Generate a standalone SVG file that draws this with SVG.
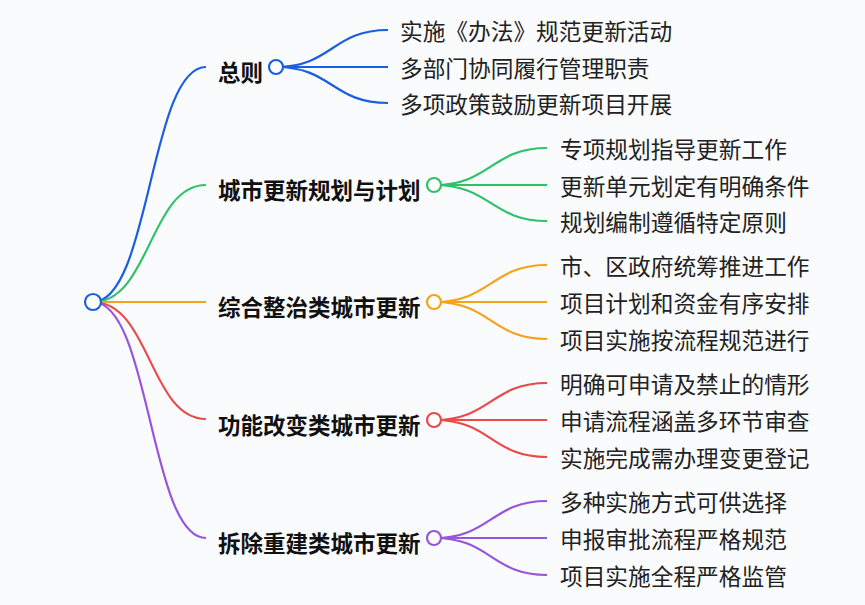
<svg xmlns="http://www.w3.org/2000/svg" width="865" height="605" viewBox="0 0 865 605">
<style>
.bg{fill:#fafbfc}
.e{fill:none;stroke-width:2.2}
.c{fill:#ffffff;stroke-width:2.2}
.lab{font-family:"Noto Sans CJK SC","Noto Sans",sans-serif;font-size:22.5px;font-weight:700;fill:#111111}
.t{font-family:"Noto Sans CJK SC","Noto Sans",sans-serif;font-size:22.7px;fill:#222222}
.b{stroke:#1b5fe0}.g{stroke:#2fc26a}.o{stroke:#f6a31a}.r{stroke:#ec4a4a}.p{stroke:#9656dc}
</style>
<rect class="bg" x="0" y="0" width="865" height="605"/>
<g id="connectors">
<path class="e b" d="M93 302 C150 302,150 67,206 67"/>
<path class="e g" d="M93 302 C150 302,150 185,206 185"/>
<path class="e o" d="M93 302 L206 302"/>
<path class="e r" d="M93 302 C150 302,150 419,206 419"/>
<path class="e p" d="M93 302 C150 302,150 538,206 538"/>
<path class="e b" d="M276 67 C332 67,332 30,388 30"/>
<path class="e b" d="M276 67 L388 67"/>
<path class="e b" d="M276 67 C332 67,332 103,388 103"/>
<path class="e g" d="M434 185 C491 185,491 148,547 148"/>
<path class="e g" d="M434 185 L547 185"/>
<path class="e g" d="M434 185 C491 185,491 221,547 221"/>
<path class="e o" d="M434 302 C491 302,491 265,547 265"/>
<path class="e o" d="M434 302 L547 302"/>
<path class="e o" d="M434 302 C491 302,491 339,547 339"/>
<path class="e r" d="M434 420 C491 420,491 383,547 383"/>
<path class="e r" d="M434 420 L547 420"/>
<path class="e r" d="M434 420 C491 420,491 457,547 457"/>
<path class="e p" d="M434 538 C491 538,491 501,547 501"/>
<path class="e p" d="M434 538 L547 538"/>
<path class="e p" d="M434 538 C491 538,491 575,547 575"/>
</g>
<g id="root"><circle class="c b" cx="93" cy="302" r="8"/></g>
<g id="n1">
<text class="lab" x="218" y="81">总则</text>
<circle class="c b" cx="276" cy="67" r="7"/>
</g>
<g id="n1a"><text class="t" x="400" y="40">实施《办法》规范更新活动</text></g>
<g id="n1b"><text class="t" x="400" y="77">多部门协同履行管理职责</text></g>
<g id="n1c"><text class="t" x="400" y="113">多项政策鼓励更新项目开展</text></g>
<g id="n2">
<text class="lab" x="218" y="199">城市更新规划与计划</text>
<circle class="c g" cx="434" cy="185" r="7"/>
</g>
<g id="n2a"><text class="t" x="560" y="158">专项规划指导更新工作</text></g>
<g id="n2b"><text class="t" x="560" y="195">更新单元划定有明确条件</text></g>
<g id="n2c"><text class="t" x="560" y="231">规划编制遵循特定原则</text></g>
<g id="n3">
<text class="lab" x="218" y="316">综合整治类城市更新</text>
<circle class="c o" cx="434" cy="302" r="7"/>
</g>
<g id="n3a"><text class="t" x="560" y="275">市、区政府统筹推进工作</text></g>
<g id="n3b"><text class="t" x="560" y="312">项目计划和资金有序安排</text></g>
<g id="n3c"><text class="t" x="560" y="349">项目实施按流程规范进行</text></g>
<g id="n4">
<text class="lab" x="218" y="434">功能改变类城市更新</text>
<circle class="c r" cx="434" cy="420" r="7"/>
</g>
<g id="n4a"><text class="t" x="560" y="393">明确可申请及禁止的情形</text></g>
<g id="n4b"><text class="t" x="560" y="430">申请流程涵盖多环节审查</text></g>
<g id="n4c"><text class="t" x="560" y="467">实施完成需办理变更登记</text></g>
<g id="n5">
<text class="lab" x="218" y="552">拆除重建类城市更新</text>
<circle class="c p" cx="434" cy="538" r="7"/>
</g>
<g id="n5a"><text class="t" x="560" y="511">多种实施方式可供选择</text></g>
<g id="n5b"><text class="t" x="560" y="548">申报审批流程严格规范</text></g>
<g id="n5c"><text class="t" x="560" y="585">项目实施全程严格监管</text></g>
</svg>
